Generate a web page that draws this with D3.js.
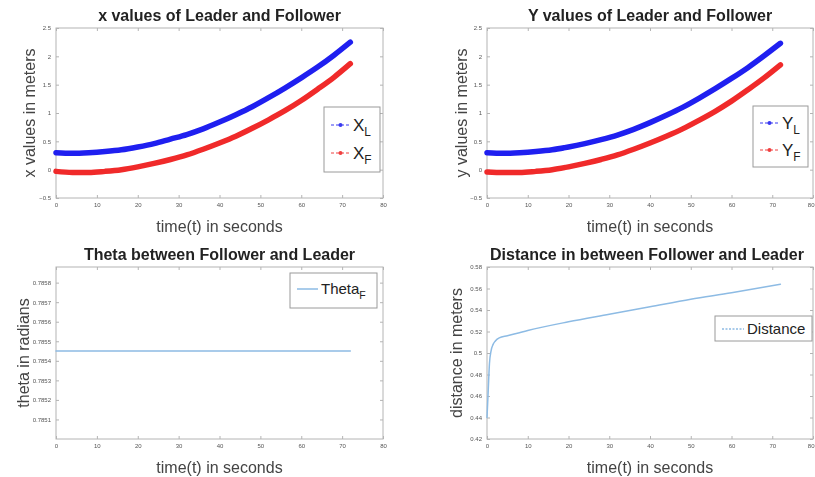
<!DOCTYPE html>
<html>
<head>
<meta charset="utf-8">
<script src="https://cdn.jsdelivr.net/npm/d3@7"></script>
<style>
  body { margin: 0; background: #fff; }
  svg { display: block; font-family: "Liberation Sans", Arial, sans-serif; filter: blur(0.45px); }
</style>
</head>
<body>
<div id="chart"></div>
<script>
const width = 815, height = 477;

// time samples (s) for the position plots
const tPos = [0, 4, 8, 12, 16, 20, 24, 28, 32, 36, 40, 44, 48, 52, 56, 60, 64, 68, 72];
const xLeader   = [0.30, 0.29, 0.30, 0.32, 0.35, 0.40, 0.46, 0.54, 0.62, 0.72, 0.84, 0.97, 1.11, 1.27, 1.44, 1.62, 1.81, 2.02, 2.25];
const xFollower = [-0.03, -0.05, -0.05, -0.03, 0.00, 0.05, 0.11, 0.18, 0.26, 0.36, 0.47, 0.59, 0.73, 0.88, 1.04, 1.22, 1.42, 1.63, 1.87];
const yLeader   = [0.30, 0.29, 0.30, 0.32, 0.35, 0.40, 0.46, 0.53, 0.61, 0.71, 0.83, 0.96, 1.10, 1.26, 1.43, 1.61, 1.80, 2.01, 2.23];
const yFollower = [-0.04, -0.05, -0.05, -0.03, 0.00, 0.05, 0.11, 0.18, 0.26, 0.36, 0.47, 0.59, 0.72, 0.87, 1.03, 1.21, 1.41, 1.62, 1.85];

// theta is flat
const tTheta = [0, 72];
const theta  = [0.78545, 0.78545];

// distance between the robots
const tDist = [0, 0.3, 0.6, 1.0, 1.5, 2, 3, 5, 10, 20, 30, 40, 50, 60, 72];
const dist  = [0.44, 0.465, 0.49, 0.502, 0.508, 0.511, 0.514, 0.516, 0.521, 0.529, 0.536, 0.543, 0.55, 0.556, 0.564];

const timeTicks  = [0, 10, 20, 30, 40, 50, 60, 70, 80];
const posTicks   = [-0.5, 0, 0.5, 1, 1.5, 2, 2.5];
const thetaTicks = [0.7851, 0.7852, 0.7853, 0.7854, 0.7855, 0.7856, 0.7857, 0.7858];
const distTicks  = [0.42, 0.44, 0.46, 0.48, 0.5, 0.52, 0.54, 0.56, 0.58];

const svg = d3.select('#chart').append('svg')
    .attr('width', width)
    .attr('height', height);

function panel(p) {
    const x = d3.scaleLinear().domain([0, 80]).range([p.left, p.right]);
    const y = d3.scaleLinear().domain(p.yDomain).range([p.bottom, p.top]);
    const g = svg.append('g');

    // box with inward ticks all round
    g.append('rect')
        .attr('x', p.left).attr('y', p.top)
        .attr('width', p.right - p.left).attr('height', p.bottom - p.top)
        .attr('fill', 'none').attr('stroke', '#b4b4b4').attr('stroke-width', 1);

    const axes = [
        [d3.axisBottom(x).tickValues(timeTicks).tickSize(-3).tickPadding(5), p.bottom, 'x', true],
        [d3.axisTop(x).tickValues(timeTicks).tickSize(-3), p.top, 'x', false],
        [d3.axisLeft(y).tickValues(p.yTicks).tickSize(-3).tickPadding(5).tickFormat(p.fmt || d3.format('')), p.left, 'y', true],
        [d3.axisRight(y).tickValues(p.yTicks).tickSize(-3), p.right, 'y', false]
    ];
    axes.forEach(([ax, pos, dir, labels]) => {
        const a = g.append('g')
            .attr('transform', dir === 'x' ? `translate(0,${pos})` : `translate(${pos},0)`)
            .call(ax);
        a.select('.domain').remove();
        a.selectAll('line').attr('stroke', '#b4b4b4');
        if (labels) {
            a.selectAll('text').attr('fill', '#555').style('font-size', '6px');
        } else {
            a.selectAll('text').remove();
        }
        // keep the last time label inside the window on the right column
        if (dir === 'x' && labels && p.right > width - 6) {
            a.selectAll('.tick').filter(d => d === 80).select('text').attr('text-anchor', 'end').attr('dx', 1);
        }
    });

    // titles
    g.append('text')
        .attr('x', (p.left + p.right) / 2 + (p.titleDx || 0)).attr('y', p.top - 7)
        .attr('text-anchor', 'middle')
        .style('font-size', '16px').style('font-weight', 'bold').attr('fill', '#222')
        .text(p.title);
    g.append('text')
        .attr('x', (p.left + p.right) / 2).attr('y', p.bottom + 34)
        .attr('text-anchor', 'middle')
        .style('font-size', '16px').attr('fill', '#444')
        .text('time(t) in seconds');
    g.append('text')
        .attr('transform', `translate(${p.ylabelX},${(p.top + p.bottom) / 2}) rotate(-90)`)
        .attr('text-anchor', 'middle')
        .style('font-size', '16px').attr('fill', '#444')
        .text(p.ylabel);

    const line = d3.line()
        .x(d => x(d[0]))
        .y(d => y(d[1]))
        .curve(d3.curveMonotoneX);

    p.series.forEach(s => {
        g.append('path')
            .datum(d3.zip(s.t, s.v))
            .attr('fill', 'none')
            .attr('stroke', s.color)
            .attr('stroke-width', s.width)
            .attr('stroke-linecap', 'round')
            .attr('d', line);
    });

    // legend
    const L = p.legend;
    g.append('rect')
        .attr('x', L.x).attr('y', L.y).attr('width', L.w).attr('height', L.h)
        .attr('fill', '#fff').attr('stroke', '#9a9a9a').attr('stroke-width', 1);
    L.items.forEach((it, i) => {
        const cy = L.y + L.first + i * L.step;
        g.append('line')
            .attr('x1', L.x + 7).attr('x2', L.x + 7 + L.seg)
            .attr('y1', cy).attr('y2', cy)
            .attr('stroke', it.color).attr('stroke-width', it.lw)
            .attr('stroke-dasharray', it.dash || null);
        if (it.marker) {
            g.append('circle')
                .attr('cx', L.x + 7 + L.seg / 2).attr('cy', cy).attr('r', 2)
                .attr('fill', it.color);
        }
        const t = g.append('text')
            .attr('x', L.x + 10 + L.seg).attr('y', cy + L.fs * 0.35)
            .style('font-size', L.fs + 'px').attr('fill', '#222')
            .text(it.label);
        if (it.sub) {
            t.append('tspan')
                .attr('dy', L.fs * 0.3)
                .style('font-size', (L.fs * 0.7) + 'px')
                .text(it.sub);
        }
    });
}

const topRow = { top: 28, bottom: 198 };
const botRow = { top: 267, bottom: 439 };

panel({
    left: 56, right: 383, ...topRow,
    yDomain: [-0.5, 2.5], yTicks: posTicks,
    title: 'x values of Leader and Follower', ylabel: 'x values in meters', ylabelX: 35,
    series: [
        { t: tPos, v: xLeader, color: '#1f1ff0', width: 5.5 },
        { t: tPos, v: xFollower, color: '#f02a2a', width: 5.5 }
    ],
    legend: { x: 324, y: 107, w: 56, h: 65, first: 18, step: 28, seg: 19, fs: 17,
        items: [
            { label: 'X', sub: 'L', color: '#3a3af0', lw: 1, dash: '3,2', marker: true },
            { label: 'X', sub: 'F', color: '#f04040', lw: 1, dash: '3,2', marker: true }
        ] }
});

panel({
    left: 487, right: 813, ...topRow,
    yDomain: [-0.5, 2.5], yTicks: posTicks,
    title: 'Y values of Leader and Follower', ylabel: 'y values in meters', ylabelX: 467,
    series: [
        { t: tPos, v: yLeader, color: '#1f1ff0', width: 5.5 },
        { t: tPos, v: yFollower, color: '#f02a2a', width: 5.5 }
    ],
    legend: { x: 753, y: 106, w: 55, h: 61, first: 17, step: 27, seg: 19, fs: 17,
        items: [
            { label: 'Y', sub: 'L', color: '#3a3af0', lw: 1, dash: '3,2', marker: true },
            { label: 'Y', sub: 'F', color: '#f04040', lw: 1, dash: '3,2', marker: true }
        ] }
});

panel({
    left: 56, right: 383, ...botRow,
    yDomain: [0.7850, 0.78588], yTicks: thetaTicks, fmt: d3.format('.4f'),
    title: 'Theta between Follower and Leader', ylabel: 'theta in radians', ylabelX: 29,
    series: [
        { t: tTheta, v: theta, color: '#8dbbe4', width: 1.5 }
    ],
    legend: { x: 290, y: 273, w: 87, h: 35, first: 16, step: 0, seg: 21, fs: 15,
        items: [
            { label: 'Theta', sub: 'F', color: '#8dbbe4', lw: 1.5 }
        ] }
});

panel({
    left: 487, right: 813, ...botRow,
    yDomain: [0.42, 0.58], yTicks: distTicks,
    title: 'Distance in between Follower and Leader', ylabel: 'distance in meters', ylabelX: 462, titleDx: -3,
    series: [
        { t: tDist, v: dist, color: '#8dbbe4', width: 1.5 }
    ],
    legend: { x: 715, y: 316, w: 97, h: 25, first: 13, step: 0, seg: 22, fs: 15,
        items: [
            { label: 'Distance', color: '#8dbbe4', lw: 1.5, dash: '2,1.5' }
        ] }
});
</script>
</body>
</html>
